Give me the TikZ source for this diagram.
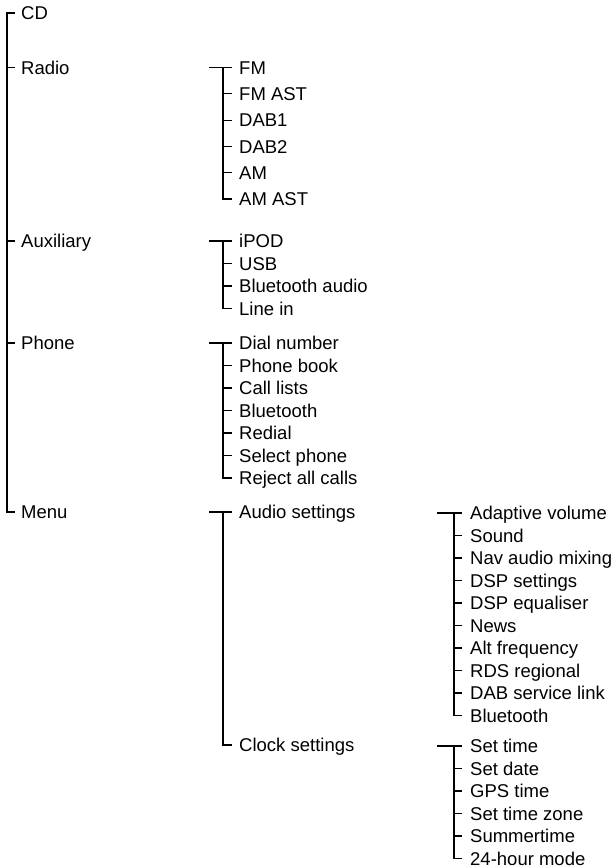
\documentclass[tikz,border=0pt]{standalone}
\usepackage{fontspec}
\setmainfont{Liberation Sans}
\usepackage{tikz}
\usetikzlibrary{calc}

\tikzset{
  item/.style={anchor=west, inner sep=0pt, text height=13.25pt, text depth=0pt,
    font=\fontsize{18.5}{22}\selectfont},
  branch/.style={line width=1.2pt, black}
}

\begin{document}
\begin{tikzpicture}[x=1pt, y=-1pt]
  \useasboundingbox (0,0) rectangle (616,868);

  % top level
  \node[item] (cd)    at (21, 13)  {CD};
  \node[item] (radio) at (21, 67.5) {Radio};
  \node[item] (aux)   at (21, 241) {Auxiliary};
  \node[item] (phone) at (21, 343) {Phone};
  \node[item] (menu)  at (21, 512) {Menu};
  \draw[branch] ([xshift=-6pt]cd.west) -| ([xshift=-14pt]menu.west) -- ([xshift=-6pt]menu.west);
  \draw[branch] ([xshift=-14pt]radio.west) -- ([xshift=-6pt]radio.west);
  \draw[branch] ([xshift=-14pt]aux.west) -- ([xshift=-6pt]aux.west);
  \draw[branch] ([xshift=-14pt]phone.west) -- ([xshift=-6pt]phone.west);

  % radio
  \node[item] (fm)    at (239, 67.5)  {FM};
  \node[item] (fmast) at (239, 93.8)  {FM AST};
  \node[item] (dab1)  at (239, 120.1) {DAB1};
  \node[item] (dab2)  at (239, 146.4) {DAB2};
  \node[item] (am)    at (239, 172.7) {AM};
  \node[item] (amast) at (239, 199)   {AM AST};
  \draw[branch] ([xshift=-30pt]fm.west) -- ([xshift=-7pt]fm.west);
  \draw[branch] ([xshift=-16pt]fm.west) |- ([xshift=-7pt]amast.west);
  \draw[branch] ([xshift=-16pt]fmast.west) -- ([xshift=-7pt]fmast.west);
  \draw[branch] ([xshift=-16pt]dab1.west) -- ([xshift=-7pt]dab1.west);
  \draw[branch] ([xshift=-16pt]dab2.west) -- ([xshift=-7pt]dab2.west);
  \draw[branch] ([xshift=-16pt]am.west) -- ([xshift=-7pt]am.west);

  % auxiliary
  \node[item] (ipod)    at (239, 241)   {iPOD};
  \node[item] (usb)     at (239, 263.5) {USB};
  \node[item] (btaudio) at (239, 286)   {Bluetooth audio};
  \node[item] (linein)  at (239, 308.5) {Line in};
  \draw[branch] ([xshift=-30pt]ipod.west) -- ([xshift=-7pt]ipod.west);
  \draw[branch] ([xshift=-16pt]ipod.west) |- ([xshift=-7pt]linein.west);
  \draw[branch] ([xshift=-16pt]usb.west) -- ([xshift=-7pt]usb.west);
  \draw[branch] ([xshift=-16pt]btaudio.west) -- ([xshift=-7pt]btaudio.west);

  % phone
  \node[item] (dial)     at (239, 343)   {Dial number};
  \node[item] (book)     at (239, 365.5) {Phone book};
  \node[item] (calls)    at (239, 388)   {Call lists};
  \node[item] (bt)       at (239, 410.5) {Bluetooth};
  \node[item] (redial)   at (239, 433)   {Redial};
  \node[item] (selphone) at (239, 455.5) {Select phone};
  \node[item] (reject)   at (239, 478)   {Reject all calls};
  \draw[branch] ([xshift=-30pt]dial.west) -- ([xshift=-7pt]dial.west);
  \draw[branch] ([xshift=-16pt]dial.west) |- ([xshift=-7pt]reject.west);
  \draw[branch] ([xshift=-16pt]book.west) -- ([xshift=-7pt]book.west);
  \draw[branch] ([xshift=-16pt]calls.west) -- ([xshift=-7pt]calls.west);
  \draw[branch] ([xshift=-16pt]bt.west) -- ([xshift=-7pt]bt.west);
  \draw[branch] ([xshift=-16pt]redial.west) -- ([xshift=-7pt]redial.west);
  \draw[branch] ([xshift=-16pt]selphone.west) -- ([xshift=-7pt]selphone.west);

  % menu
  \node[item] (audio) at (239, 512) {Audio settings};
  \node[item] (clock) at (239, 745) {Clock settings};
  \draw[branch] ([xshift=-30pt]audio.west) -- ([xshift=-7pt]audio.west);
  \draw[branch] ([xshift=-16pt]audio.west) |- ([xshift=-7pt]clock.west);

  % audio settings
  \node[item] (adapt)   at (470, 513)   {Adaptive volume};
  \node[item] (sound)   at (470, 535.5) {Sound};
  \node[item] (navmix)  at (470, 558)   {Nav audio mixing};
  \node[item] (dspset)  at (470, 580.5) {DSP settings};
  \node[item] (dspeq)   at (470, 603)   {DSP equaliser};
  \node[item] (news)    at (470, 625.5) {News};
  \node[item] (altfreq) at (470, 648)   {Alt frequency};
  \node[item] (rds)     at (470, 670.5) {RDS regional};
  \node[item] (dablink) at (470, 693)   {DAB service link};
  \node[item] (btset)   at (470, 715.5) {Bluetooth};
  \draw[branch] ([xshift=-33pt]adapt.west) -- ([xshift=-8pt]adapt.west);
  \draw[branch] ([xshift=-16pt]adapt.west) |- ([xshift=-8pt]btset.west);
  \draw[branch] ([xshift=-16pt]sound.west) -- ([xshift=-8pt]sound.west);
  \draw[branch] ([xshift=-16pt]navmix.west) -- ([xshift=-8pt]navmix.west);
  \draw[branch] ([xshift=-16pt]dspset.west) -- ([xshift=-8pt]dspset.west);
  \draw[branch] ([xshift=-16pt]dspeq.west) -- ([xshift=-8pt]dspeq.west);
  \draw[branch] ([xshift=-16pt]news.west) -- ([xshift=-8pt]news.west);
  \draw[branch] ([xshift=-16pt]altfreq.west) -- ([xshift=-8pt]altfreq.west);
  \draw[branch] ([xshift=-16pt]rds.west) -- ([xshift=-8pt]rds.west);
  \draw[branch] ([xshift=-16pt]dablink.west) -- ([xshift=-8pt]dablink.west);

  % clock settings
  \node[item] (settime) at (470, 746)   {Set time};
  \node[item] (setdate) at (470, 768.5) {Set date};
  \node[item] (gps)     at (470, 791)   {GPS time};
  \node[item] (zone)    at (470, 813.5) {Set time zone};
  \node[item] (summer)  at (470, 836)   {Summertime};
  \node[item] (hour24)  at (470, 858.5) {24-hour mode};
  \draw[branch] ([xshift=-33pt]settime.west) -- ([xshift=-8pt]settime.west);
  \draw[branch] ([xshift=-16pt]settime.west) |- ([xshift=-8pt]hour24.west);
  \draw[branch] ([xshift=-16pt]setdate.west) -- ([xshift=-8pt]setdate.west);
  \draw[branch] ([xshift=-16pt]gps.west) -- ([xshift=-8pt]gps.west);
  \draw[branch] ([xshift=-16pt]zone.west) -- ([xshift=-8pt]zone.west);
  \draw[branch] ([xshift=-16pt]summer.west) -- ([xshift=-8pt]summer.west);
\end{tikzpicture}
\end{document}
